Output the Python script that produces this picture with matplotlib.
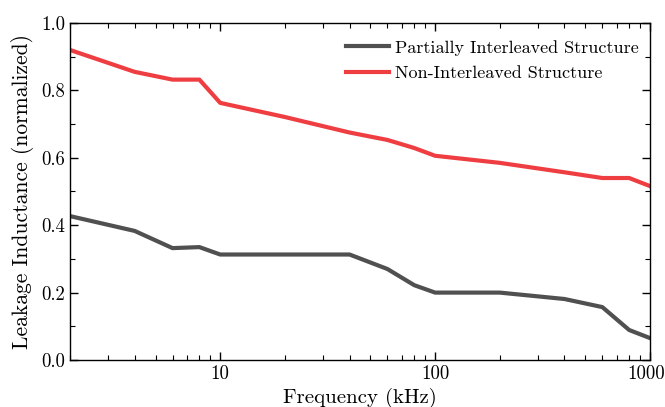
import matplotlib
matplotlib.use("Agg")
import matplotlib.pyplot as plt
import matplotlib.transforms as mtransforms
from matplotlib.ticker import FixedLocator, NullFormatter, MultipleLocator

plt.rcParams['font.family'] = 'serif'
plt.rcParams['font.serif'] = ['cmr10', 'DejaVu Serif']
plt.rcParams['mathtext.fontset'] = 'cm'
plt.rcParams['axes.formatter.use_mathtext'] = True

freq = [2, 4, 6, 8, 10, 20, 40, 60, 80, 100, 200, 400, 600, 800, 1000]
partial = [0.427, 0.383, 0.332, 0.335, 0.313, 0.313, 0.313, 0.27, 0.222, 0.2, 0.2, 0.181, 0.157, 0.089, 0.065]
non_inter = [0.92, 0.855, 0.832, 0.832, 0.763, 0.721, 0.675, 0.653, 0.629, 0.606, 0.585, 0.557, 0.54, 0.54, 0.516]

fig = plt.figure(figsize=(6.65, 4.07), dpi=100)
ax = fig.add_axes([70/665, 1-360/407, 580/665, 337/407])

ax.plot(freq, partial, color='#505050', lw=3.0, label='Partially Interleaved Structure')
ax.plot(freq, non_inter, color='#ef3e42', lw=3.0, label='Non-Interleaved Structure')

ax.set_xscale('log')
ax.set_xlim(2, 1000)
ax.set_ylim(0, 1.0)
ax.set_xticks([10, 100, 1000])
ax.set_xticklabels(['10', '100', '1000'])
ax.xaxis.set_minor_locator(FixedLocator([2,3,4,5,6,7,8,9,20,30,40,50,60,70,80,90,200,300,400,500,600,700,800,900]))
ax.xaxis.set_minor_formatter(NullFormatter())
ax.set_yticks([0.0, 0.2, 0.4, 0.6, 0.8, 1.0])
ax.set_yticklabels(['0.0', '0.2', '0.4', '0.6', '0.8', '1.0'])
ax.yaxis.set_minor_locator(MultipleLocator(0.1))

ax.tick_params(which='both', direction='in', top=True, right=True, labelsize=13.5)
ax.tick_params(which='major', length=6, width=1.0)
ax.tick_params(which='minor', length=3.5, width=0.8)
for s in ax.spines.values():
    s.set_linewidth(1.0)

# nudge the last x tick label so it stays inside the figure
last = ax.get_xticklabels()[-1]
last.set_transform(last.get_transform() + mtransforms.ScaledTranslation(-4/100, 0, fig.dpi_scale_trans))

ax.set_xlabel('Frequency (kHz)', fontsize=15, labelpad=3.5)
ax.set_ylabel('Leakage Inductance (normalized)', fontsize=15.5, labelpad=5)

ax.legend(loc='upper right', bbox_to_anchor=(1.0, 0.985), frameon=False, fontsize=13,
          handlelength=2.4, handletextpad=0.3, labelspacing=0.55, borderaxespad=0.25)

fig.savefig('out.png', dpi=100)
